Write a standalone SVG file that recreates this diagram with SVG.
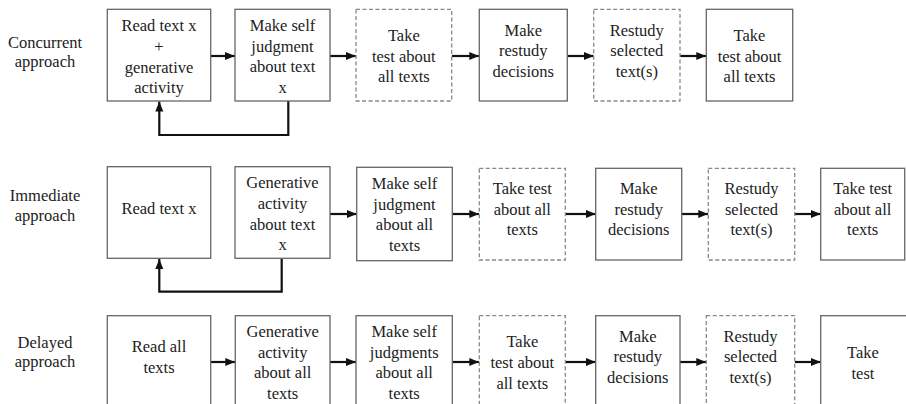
<svg xmlns="http://www.w3.org/2000/svg" width="906" height="404" viewBox="0 0 906 404">
<style>
  .box { fill: #fff; stroke: #666; stroke-width: 1.3; }
  .dash { fill: #fff; stroke: #888; stroke-width: 1.3; stroke-dasharray: 4 2.5; }
  text { font-size: 16.5px; fill: #222; text-anchor: middle; }
  .conn { fill: none; stroke: #111; stroke-width: 2.2; marker-end: url(#ah); }
</style>
<defs>
  <marker id="ah" markerUnits="userSpaceOnUse" markerWidth="10" markerHeight="10" viewBox="0 0 10 10" refX="10" refY="5" orient="auto">
    <path d="M0,1 L10,5 L0,9 Z" fill="#111"/>
  </marker>
</defs>
<rect width="906" height="404" fill="#fff"/>
<g font-family="Liberation Serif, Times New Roman, serif">
<g id="labels">
  <text x="45" y="47.5">Concurrent</text>
  <text x="45" y="67">approach</text>
  <text x="45" y="201">Immediate</text>
  <text x="45" y="220.5">approach</text>
  <text x="45" y="347.5">Delayed</text>
  <text x="45" y="367">approach</text>
</g>

<g id="connectors">
  <path class="conn" d="M210.7,56 H235"/>
  <path class="conn" d="M330,56 H356"/>
  <path class="conn" d="M451.7,56 H479.3"/>
  <path class="conn" d="M567.3,56 H593.7"/>
  <path class="conn" d="M680,56 H706.3"/>
  <path class="conn" d="M288.3,101 V135 H159.3 V101.5"/>

  <path class="conn" d="M330,214 H356.7"/>
  <path class="conn" d="M452.3,214 H479.3"/>
  <path class="conn" d="M565.3,214 H595.7"/>
  <path class="conn" d="M681.7,214 H708.3"/>
  <path class="conn" d="M794.7,214 H820.7"/>
  <path class="conn" d="M281.7,258.3 V291.7 H159.3 V259"/>

  <path class="conn" d="M210.7,362 H235.3"/>
  <path class="conn" d="M330,362 H356"/>
  <path class="conn" d="M452.3,362 H479.3"/>
  <path class="conn" d="M565.3,362 H595.7"/>
  <path class="conn" d="M680,362 H706.3"/>
  <path class="conn" d="M794.7,362 H820.7"/>
</g>

<!-- Row 1: Concurrent -->
<g id="c1"><rect class="box" x="107.3" y="9.3" width="103.4" height="91.7"/>
  <text x="159" y="31">Read text x</text><text x="159" y="52">+</text><text x="159" y="72.5">generative</text><text x="159" y="93">activity</text></g>
<g id="c2"><rect class="box" x="235" y="9.3" width="95" height="91.7"/>
  <text x="282.5" y="31">Make self</text><text x="282.5" y="51.7">judgment</text><text x="282.5" y="72.4">about text</text><text x="282.5" y="93">x</text></g>
<g id="c3"><rect class="dash" x="356" y="9.3" width="95.7" height="91.7"/>
  <text x="403.8" y="41">Take</text><text x="403.8" y="61.7">test about</text><text x="403.8" y="82.4">all texts</text></g>
<g id="c4"><rect class="box" x="479.3" y="9.3" width="88" height="91.7"/>
  <text x="523.3" y="35.5">Make</text><text x="523.3" y="56.2">restudy</text><text x="523.3" y="76.9">decisions</text></g>
<g id="c5"><rect class="dash" x="593.7" y="9.3" width="86.3" height="91.7"/>
  <text x="636.8" y="35.5">Restudy</text><text x="636.8" y="56.2">selected</text><text x="636.8" y="76.9">text(s)</text></g>
<g id="c6"><rect class="box" x="706.3" y="9.3" width="86.4" height="91.7"/>
  <text x="749.5" y="41">Take</text><text x="749.5" y="61.7">test about</text><text x="749.5" y="82.4">all texts</text></g>

<!-- Row 2: Immediate -->
<g id="i1"><rect class="box" x="107.3" y="166.7" width="103.4" height="91.6"/>
  <text x="159" y="214">Read text x</text></g>
<g id="i2"><rect class="box" x="235" y="166.7" width="95" height="91.6"/>
  <text x="282.5" y="188.3">Generative</text><text x="282.5" y="208.9">activity</text><text x="282.5" y="229.5">about text</text><text x="282.5" y="250">x</text></g>
<g id="i3"><rect class="box" x="356.7" y="167.3" width="95.6" height="93.4"/>
  <text x="404.5" y="189">Make self</text><text x="404.5" y="209.7">judgment</text><text x="404.5" y="230.4">about all</text><text x="404.5" y="251">texts</text></g>
<g id="i4"><rect class="dash" x="479.3" y="168.3" width="86" height="91.7"/>
  <text x="522.3" y="194">Take test</text><text x="522.3" y="214.5">about all</text><text x="522.3" y="235">texts</text></g>
<g id="i5"><rect class="box" x="595.7" y="168.3" width="86" height="91.7"/>
  <text x="638.7" y="194">Make</text><text x="638.7" y="214.7">restudy</text><text x="638.7" y="235.4">decisions</text></g>
<g id="i6"><rect class="dash" x="708.3" y="168.3" width="86.4" height="91.7"/>
  <text x="751.5" y="194">Restudy</text><text x="751.5" y="214.7">selected</text><text x="751.5" y="235.4">text(s)</text></g>
<g id="i7"><rect class="box" x="820.7" y="168.3" width="84" height="91.7"/>
  <text x="862.7" y="194">Take test</text><text x="862.7" y="214.5">about all</text><text x="862.7" y="235">texts</text></g>

<!-- Row 3: Delayed -->
<g id="d1"><rect class="box" x="107.3" y="315.7" width="103.4" height="95"/>
  <text x="159" y="352">Read all</text><text x="159" y="372.5">texts</text></g>
<g id="d2"><rect class="box" x="235.3" y="315.7" width="94.7" height="95"/>
  <text x="282.7" y="337">Generative</text><text x="282.7" y="357.7">activity</text><text x="282.7" y="378.2">about all</text><text x="282.7" y="398.7">texts</text></g>
<g id="d3"><rect class="box" x="356" y="315.7" width="96.3" height="95"/>
  <text x="404.2" y="337">Make self</text><text x="404.2" y="357.7">judgments</text><text x="404.2" y="378.2">about all</text><text x="404.2" y="398.7">texts</text></g>
<g id="d4"><rect class="dash" x="479.3" y="315.7" width="86" height="95"/>
  <text x="522.3" y="347">Take</text><text x="522.3" y="367.7">test about</text><text x="522.3" y="388.5">all texts</text></g>
<g id="d5"><rect class="box" x="595.7" y="315.7" width="84.3" height="95"/>
  <text x="637.8" y="341.7">Make</text><text x="637.8" y="362.4">restudy</text><text x="637.8" y="383">decisions</text></g>
<g id="d6"><rect class="dash" x="706.3" y="315.7" width="88.4" height="95"/>
  <text x="750.5" y="341.7">Restudy</text><text x="750.5" y="362.4">selected</text><text x="750.5" y="383">text(s)</text></g>
<g id="d7"><rect class="box" x="820.7" y="315.7" width="90" height="95"/>
  <text x="863" y="358.3">Take</text><text x="863" y="379">test</text></g>
</g>
</svg>
